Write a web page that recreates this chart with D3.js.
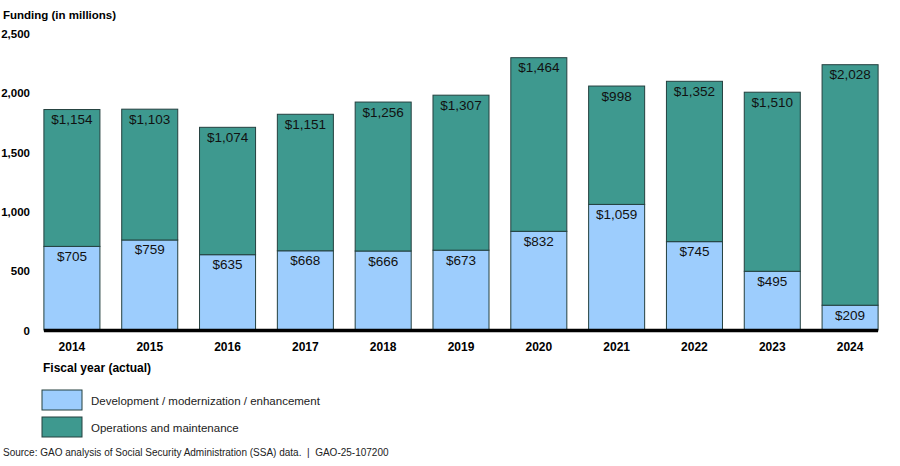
<!DOCTYPE html>
<html>
<head>
<meta charset="utf-8">
<script src="https://cdn.jsdelivr.net/npm/d3@7"></script>
<style>
  body { margin: 0; background: #fff; }
  svg { font-family: Arial, "Liberation Sans", sans-serif; }
</style>
</head>
<body>
<div id="chart"></div>
<script>
const years = ['2014', '2015', '2016', '2017', '2018', '2019', '2020', '2021', '2022', '2023', '2024'];
const dme = [705, 759, 635, 668, 666, 673, 832, 1059, 745, 495, 209];
const om = [1154, 1103, 1074, 1151, 1256, 1307, 1464, 998, 1352, 1510, 2028];
const yTicks = [0, 500, 1000, 1500, 2000, 2500];
const seriesNames = ['Development / modernization / enhancement', 'Operations and maintenance'];

const width = 900;
const height = 466;
const colors = ['#9dcdfd', '#3e998f'];

const svg = d3.select('#chart')
    .append('svg')
    .attr('width', width)
    .attr('height', height);

const rows = years.map((y, i) => ({ year: y, dme: dme[i], om: om[i] }));
const stack = d3.stack().keys(['dme', 'om'])(rows);

const x = d3.scaleBand().domain(years).range([33, 889]).paddingInner(0.28).paddingOuter(0.14);
const y = d3.scaleLinear().domain([0, 2500]).range([330, 33.5]);

// y tick labels
svg.append('g')
    .selectAll('text')
    .data(yTicks)
    .join('text')
    .attr('x', 30)
    .attr('y', d => y(d) + 4.5)
    .attr('text-anchor', 'end')
    .attr('font-size', 11.5)
    .attr('font-weight', 'bold')
    .text(d => d3.format(',')(d));

svg.append('text')
    .attr('x', 3)
    .attr('y', 19)
    .attr('font-size', 11.5)
    .attr('font-weight', 'bold')
    .text('Funding (in millions)');

// bars
const layers = svg.append('g')
    .selectAll('g')
    .data(stack)
    .join('g')
    .attr('fill', (d, i) => colors[i]);

layers.selectAll('rect')
    .data(d => d)
    .join('rect')
    .attr('x', d => x(d.data.year))
    .attr('y', d => y(d[1]))
    .attr('width', x.bandwidth())
    .attr('height', d => y(d[0]) - y(d[1]))
    .attr('stroke', '#24403f')
    .attr('stroke-width', 1);

layers.selectAll('text')
    .data(d => d)
    .join('text')
    .attr('x', d => x(d.data.year) + x.bandwidth() / 2)
    .attr('y', d => y(d[1]) + 14.5)
    .attr('text-anchor', 'middle')
    .attr('font-size', 13.5)
    .attr('fill', '#111')
    .text(d => '$' + d3.format(',')(d[1] - d[0]));

// baseline
svg.append('line')
    .attr('x1', x(years[0]))
    .attr('x2', x(years[years.length - 1]) + x.bandwidth())
    .attr('y1', y(0) + 0.5)
    .attr('y2', y(0) + 0.5)
    .attr('stroke', '#000')
    .attr('stroke-width', 3.5);

// x labels
svg.append('g')
    .selectAll('text')
    .data(years)
    .join('text')
    .attr('x', d => x(d) + x.bandwidth() / 2)
    .attr('y', 351)
    .attr('text-anchor', 'middle')
    .attr('font-size', 12)
    .attr('font-weight', 'bold')
    .text(d => d);

svg.append('text')
    .attr('x', 43)
    .attr('y', 372)
    .attr('font-size', 12)
    .attr('font-weight', 'bold')
    .text('Fiscal year (actual)');

// legend
const legend = svg.append('g')
    .selectAll('g')
    .data(seriesNames)
    .join('g')
    .attr('transform', (d, i) => `translate(42, ${390 + i * 27})`);

legend.append('rect')
    .attr('width', 40)
    .attr('height', 20)
    .attr('fill', (d, i) => colors[i])
    .attr('stroke', '#24403f');

legend.append('text')
    .attr('x', 49)
    .attr('y', 15)
    .attr('font-size', 11.5)
    .attr('fill', '#222')
    .text(d => d);

svg.append('text')
    .attr('x', 3)
    .attr('y', 456)
    .attr('font-size', 10)
    .attr('fill', '#222')
    .style('white-space', 'pre')
    .text('Source: GAO analysis of Social Security Administration (SSA) data.  |  GAO-25-107200');
</script>
</body>
</html>
